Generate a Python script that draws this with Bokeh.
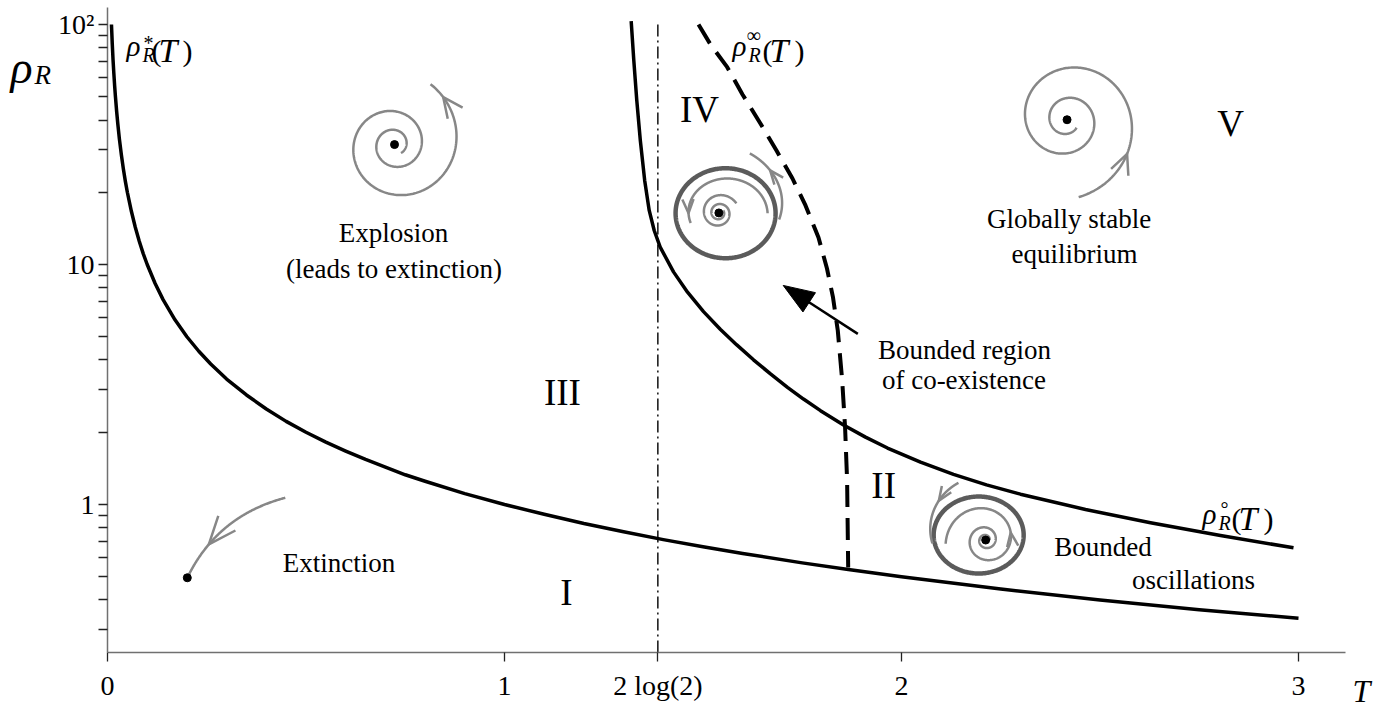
import numpy as np
from bokeh.plotting import figure
from bokeh.models import FixedTicker, CustomJSTickFormatter, Label
from bokeh.embed import file_html
from bokeh.resources import INLINE

# ---------------- data ----------------
# lower boundary rho*_R(T)
T_star = [0.0100, 0.012, 0.014, 0.016, 0.018, 0.020, 0.023, 0.026, 0.030, 0.035, 0.040, 0.045,
          0.050, 0.060, 0.070, 0.080, 0.090, 0.10, 0.12, 0.14, 0.17, 0.20, 0.23, 0.26, 0.30,
          0.35, 0.40, 0.45, 0.50, 0.55, 0.60, 0.65, 0.70, 0.75, 0.80, 0.90, 1.0, 1.1, 1.2,
          1.3, 1.4, 1.5, 1.6, 1.75, 1.866, 2.0, 2.25, 2.5, 2.75, 3.0]
rho_star = [100, 83, 71, 62.5, 55.5, 50, 43.5, 38.5, 33.3, 28.6, 25, 22.2,
            20, 16.7, 14.3, 12.5, 11.1, 10, 8.33, 7.14, 5.88, 5.0, 4.35, 3.85, 3.33,
            2.86, 2.5, 2.22, 2.0, 1.82, 1.67, 1.54, 1.43, 1.33, 1.25, 1.11, 1.0, 0.91, 0.833,
            0.77, 0.714, 0.667, 0.625, 0.571, 0.536, 0.5, 0.444, 0.4, 0.364, 0.336]
# upper boundary rho°_R(T)
T_circ = [1.3191, 1.3257, 1.3332, 1.3421, 1.3531, 1.3645, 1.3771, 1.3922, 1.4257, 1.4610,
          1.5013, 1.5441, 1.5844, 1.6272, 1.6700, 1.7128, 1.7531, 1.7960, 1.8539, 1.9093,
          1.9647, 2.0479, 2.1310, 2.2141, 2.2997, 2.4635, 2.6272, 2.8035, 2.9874]
rho_circ = [103.2, 70.8, 48.3, 32.9, 22.4, 16.8, 13.86, 11.81, 9.316, 7.665,
            6.364, 5.360, 4.634, 4.008, 3.499, 3.078, 2.750, 2.460, 2.144, 1.908,
            1.719, 1.501, 1.335, 1.207, 1.104, 0.953, 0.839, 0.742, 0.660]
# dashed boundary rho^inf_R(T)
T_inf = [1.4887, 1.520, 1.561, 1.5995, 1.645, 1.6851, 1.7254, 1.7582, 1.7909, 1.8123,
         1.8275, 1.8395, 1.8506, 1.8579, 1.8630, 1.8657]
rho_inf = [100, 82, 66.4, 51.1, 38.6, 29.85, 22.82, 17.62, 12.96, 9.62,
           7.29, 5.31, 3.29, 2.094, 1.259, 0.5464]
# critical period 2 log(2)
T_crit = 2 * np.log(2)
crit_rho = [0.2416, 102]

x_ticks = [0, 1, T_crit, 2, 3]
x_tick_labels = ["0", "1", "2 log(2)", "2", "3"]
y_ticks = [1, 10, 100]
y_tick_labels = ["1", "10", "10²"]
y_minor = [0.3, 0.4, 0.5, 0.6, 0.7, 0.8, 0.9, 2, 3, 4, 5, 6, 7, 8, 9,
           20, 30, 40, 50, 60, 70, 80, 90]
x_axis_span = (0, 3.1184)
y_axis_span = (0.2416, 117.7)

region_names = ["I", "II", "III", "IV", "V"]
region_T = [1.156, 1.955, 1.146, 1.491, 2.829]
region_rho = [0.430, 1.20, 2.93, 44.2, 38.7]

# equilibria (dots) of the phase-portrait sketches: extinction, III, IV, II, V
eq_T = [0.201, 0.723, 1.540, 2.212, 2.417]
eq_rho = [0.495, 31.6, 16.4, 0.711, 40.1]

notes = [("Explosion", 0.7204, 13.59), ("(leads to extinction)", 0.7217, 9.62),
         ("Extinction", 0.5831, 0.568), ("Globally stable", 2.422, 15.40),
         ("equilibrium", 2.4358, 11.01), ("Bounded region", 2.1587, 4.404),
         ("of co-existence", 2.1574, 3.286), ("Bounded", 2.5076, 0.662),
         ("oscillations", 2.7355, 0.4825)]
arrow_from = (1.890, 5.14)
arrow_to = (1.702, 8.18)

# ---------------- figure (frame = whole canvas, axes fixed inside) ----------------
W, H = 1388, 713
X_START, X_END = -0.26952, 3.22670
Y_START, Y_END = 0.13461, 125.89
PX_T = W / (X_END - X_START)
PX_DEC = H / np.log10(Y_END / Y_START)

p = figure(frame_width=W, frame_height=H,
           x_range=(X_START, X_END), y_range=(Y_START, Y_END), y_axis_type="log",
           output_backend="svg", toolbar_location=None,
           min_border_left=0, min_border_right=0, min_border_top=0, min_border_bottom=0)
p.grid.visible = False
p.outline_line_color = None
p.background_fill_color = "white"
p.border_fill_color = "white"

fmt_code = """
for (let i = 0; i < tv.length; i++) {
  if (Math.abs(tick - tv[i]) < 1e-6 * Math.max(1, Math.abs(tv[i]))) return lv[i];
}
return "";
"""
p.xaxis.ticker = FixedTicker(ticks=x_ticks, minor_ticks=[])
p.xaxis.formatter = CustomJSTickFormatter(args=dict(tv=x_ticks, lv=x_tick_labels), code=fmt_code)
p.yaxis.ticker = FixedTicker(ticks=y_ticks, minor_ticks=y_minor)
p.yaxis.formatter = CustomJSTickFormatter(args=dict(tv=y_ticks, lv=y_tick_labels), code=fmt_code)
p.xaxis.fixed_location = y_axis_span[0]
p.yaxis.fixed_location = x_axis_span[0]
p.xaxis.bounds = x_axis_span
p.yaxis.bounds = y_axis_span

for ax in (p.xaxis, p.yaxis):
    ax.axis_line_color = "#707070"
    ax.axis_line_width = 1.5
    ax.major_tick_line_color = "#222222"
    ax.minor_tick_line_color = "#222222"
    ax.major_tick_line_width = 1.3
    ax.minor_tick_line_width = 1.3
    ax.major_tick_in = 0
    ax.major_tick_out = 9
    ax.minor_tick_in = 0
    ax.minor_tick_out = 9
    ax.major_label_text_font = "Liberation Serif"
    ax.major_label_text_font_size = "28px"
    ax.major_label_text_color = "black"
p.xaxis.major_label_standoff = 8
p.yaxis.major_label_standoff = 4

# boundaries
p.line(T_star, rho_star, line_width=3.5, line_color="black", line_join="round")
p.line(T_circ, rho_circ, line_width=3.5, line_color="black", line_join="round")
p.line(T_inf, rho_inf, line_width=4, line_color="black", line_dash="22 11")
p.line([T_crit, T_crit], crit_rho, line_width=1.4, line_color="black", line_dash="12 4 2 4")

# ---------------- phase-portrait sketches (pixel offsets around the dots) ----------------
GREY = "#878787"
CYCLE = "#5b5b5b"


def px_to_data(T0, r0, dx, dy):
    dx = np.asarray(dx, float)
    dy = np.asarray(dy, float)
    return T0 + dx / PX_T, r0 * 10 ** (dy / PX_DEC)


def spiral(a, k, t0, t1, sign=1, phase=0.0, cx=0.0, cy=0.0, sy=1.0, n=500):
    t = np.linspace(t0, t1, n)
    r = a * np.exp(k * t)
    ang = phase + sign * t
    return t, cx + r * np.cos(ang), cy + sy * r * np.sin(ang)


def head(t, xs, ys, ta, forward=True, L=20.0, alpha=25.0):
    i = int(np.clip(np.argmin(np.abs(t - ta)), 1, len(t) - 2))
    d = np.array([xs[i + 1] - xs[i - 1], ys[i + 1] - ys[i - 1]])
    if not forward:
        d = -d
    d = d / np.hypot(*d)
    b = -d
    a = np.radians(alpha)
    pts = []
    for s in (1, -1):
        c, sn = np.cos(s * a), np.sin(s * a)
        v = np.array([b[0] * c - b[1] * sn, b[0] * sn + b[1] * c])
        pts.append((xs[i] + L * v[0], ys[i] + L * v[1]))
    return [pts[0][0], xs[i], pts[1][0]], [pts[0][1], ys[i], pts[1][1]]


def draw(k, xs, ys, color=GREY, width=2.5):
    X, Y = px_to_data(eq_T[k], eq_rho[k], xs, ys)
    p.line(X, Y, line_color=color, line_width=width, line_join="round")


# extinction trajectory (quadratic curve into the dot)
tb = np.linspace(0, 1, 200)
P0, C, P2 = np.array([98, 80]), np.array([30, 62]), np.array([0, 0])
bx = (1 - tb) ** 2 * P0[0] + 2 * tb * (1 - tb) * C[0] + tb ** 2 * P2[0]
by = (1 - tb) ** 2 * P0[1] + 2 * tb * (1 - tb) * C[1] + tb ** 2 * P2[1]
draw(0, bx, by)
draw(0, *head(tb, bx, by, 0.7, True, L=30, alpha=22))

# III: exploding spiral
t, x, y = spiral(12, 0.13, -0.92, 13.6)
draw(1, x, y)
draw(1, *head(t, x, y, 13.33, True, L=22, alpha=25))

# IV: unstable limit cycle
th = np.linspace(0, 2 * np.pi, 300)
draw(2, 6.7 + 50 * np.cos(th), -0.3 + 45 * np.sin(th), color=CYCLE, width=4.5)
t, x, y = spiral(42, -0.04, 0, 3.45, cx=6.7, cy=-0.3, sy=0.88)
draw(2, x, y)
draw(2, *head(t, x, y, 3.14, True, L=15, alpha=22))
t, x, y = spiral(5, 0.11, 0, 4 * np.pi, sign=-1, phase=0.5)
draw(2, x, y)
t, x, y = spiral(55.4, 0.2, -0.13, 1.22, cx=6.7, cy=-0.3, sy=0.9)
draw(2, x, y)
draw(2, *head(t, x, y, 0.82, True, L=15, alpha=22))

# II: stable limit cycle
draw(3, -7 + 45 * np.cos(th), 5 + 38.5 * np.sin(th), color=CYCLE, width=4.5)
t, x, y = spiral(4, 0.146, 0, 15.8)
draw(3, x, y)
draw(3, *head(t, x, y, 12.87, True, L=15, alpha=22))
t, x, y = spiral(71.6, -0.127, 1.94, 3.32, cx=-7, cy=5)
draw(3, x, y)
draw(3, *head(t, x, y, 2.43, True, L=15, alpha=22))

# V: stable spiral
t, x, y = spiral(12.5, 0.138, 0, 13.29, sign=-1, phase=-0.698)
draw(4, x, y)
draw(4, *head(t, x, y, 12.39, False, L=22, alpha=25))

p.scatter(eq_T, eq_rho, size=8, color="black")

# annotation arrow
ux = (arrow_from[0] - arrow_to[0]) * PX_T
uy = np.log10(arrow_from[1] / arrow_to[1]) * PX_DEC
nrm = np.hypot(ux, uy)
ux, uy = ux / nrm, uy / nrm
hl, hw = 31, 11.5
hx = [0, hl * ux + hw * (-uy), hl * ux - hw * (-uy)]
hy = [0, hl * uy + hw * ux, hl * uy - hw * ux]
HX, HY = px_to_data(arrow_to[0], arrow_to[1], hx, hy)
BX, BY = px_to_data(arrow_to[0], arrow_to[1], [hl * 0.8 * ux], [hl * 0.8 * uy])
p.line([arrow_from[0], BX[0]], [arrow_from[1], BY[0]], line_color="black", line_width=2.5)
p.patch(HX, HY, fill_color="black", line_color="black", line_width=1)

# ---------------- texts ----------------
FONT = "Liberation Serif"


def add_text(T, rho, text, size, italic=False, align="center", baseline="middle", dx=0, dy=0):
    x = T + dx / PX_T
    y = rho * 10 ** (-dy / PX_DEC)
    p.add_layout(Label(x=x, y=y, text=text, text_font=FONT, text_font_size=f"{size}px",
                       text_font_style="italic" if italic else "normal",
                       text_align=align, text_baseline=baseline, text_color="black"))


for txt, T, r in notes:
    add_text(T, r, txt, 27)
for name, T, r in zip(region_names, region_T, region_rho):
    add_text(T, r, name, 37)


def compound(T, rho, pieces):
    for txt, dx, dy, size, it in pieces:
        add_text(T, rho, txt, size, italic=it, align="left", baseline="alphabetic", dx=dx, dy=dy)


compound(0.0479, 77.93, [("ρ", 0, -4, 29, True), ("R", 16, 5, 20, True), ("*", 17, -7, 20, False),
                         ("(", 25, 0, 30, False), ("T", 32, 0, 34, True), (")", 56, 0, 30, False)])
compound(1.5743, 77.93, [("ρ", 0, -4, 29, True), ("R", 16, 5, 20, True), ("∞", 14, -15, 20, False),
                         ("(", 30, 0, 30, False), ("T", 37, 0, 34, True), (")", 62, 0, 30, False)])
compound(2.7582, 0.8743, [("ρ", 0, -4, 29, True), ("R", 16, 5, 20, True), ("°", 18, -9, 20, False),
                          ("(", 29, 0, 30, False), ("T", 36, 0, 34, True), (")", 61, 0, 30, False)])
# axis titles
compound(-0.2443, 60.72, [("ρ", 0, -9, 46, True), ("R", 24, -1, 27, True)])
compound(3.1360, 0.1482, [("T", 0, -12, 32, True)])

open("out.html", "w").write(file_html(p, INLINE))
